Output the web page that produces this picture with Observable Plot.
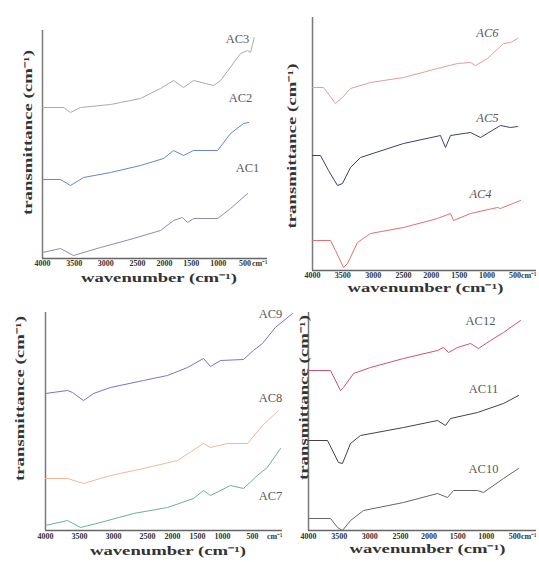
<!DOCTYPE html>
<html><head><meta charset="utf-8">
<script src="https://cdn.jsdelivr.net/npm/d3@7"></script>
<script src="https://cdn.jsdelivr.net/npm/@observablehq/plot@0.6"></script>
<style>
body{margin:0;background:#fff;}
#chart{position:relative;width:539px;height:562px;overflow:hidden;background:#fff;}
#chart svg{position:absolute;}
</style></head><body><div id="chart"></div>
<script>
// ---- tick labels / titles ----
const wavenumberTicks = [4000, 3500, 3000, 2500, 2000, 1500, 1000, 500];
const unitLabel = "cm⁻¹";
const xTitle = "wavenumber (cm⁻¹)";
const yTitle = "transmittance (cm⁻¹)";

// ---- series: [wavenumber (cm-1), transmittance (a.u., offset)] ----
const AC3 = [[4000,151],[3668,151],[3558,146],[3400,151],[2926,154],[2768,156],[2444,160],[2072,170],[1830,178],[1644,171],[1458,178],[1086,173],[956,178],[584,205],[454,208],[400,206],[330,221]];
const AC2 = [[4000,79],[3716,79],[3558,73],[3353,81],[2926,86],[2444,93],[2016,100],[1830,108],[1644,103],[1458,108],[1012,108],[770,125],[528,135],[435,136]];
const AC1 = [[4000,6],[3716,10],[3510,3],[3084,11],[2563,20],[2072,28],[1830,38],[1663,41],[1570,36],[1458,40],[1012,40],[770,50],[454,65]];

const AC6 = [[4000,183],[3819,183],[3621,167],[3506,173],[3374,182],[3044,188],[2500,193],[1890,202],[1531,207],[1298,208],[1208,205],[993,212],[706,227],[580,228],[450,232]];
const AC5 = [[4000,115],[3868,115],[3736,100],[3588,85],[3506,87],[3374,103],[3209,113],[2500,127],[1836,135],[1746,123],[1656,135],[1298,138],[1118,133],[759,145],[580,143],[454,144]];
const AC4 = [[4000,30],[3703,30],[3621,20],[3489,3],[3423,7],[3259,28],[3044,37],[2500,43],[1890,52],[1656,57],[1602,50],[1298,57],[813,63],[759,62],[400,70]];

const AC9 = [[4000,137],[3676,140],[3603,138],[3441,130],[3294,137],[3044,143],[2559,150],[2100,155],[1700,163],[1380,172],[1240,164],[1040,170],[650,171],[498,180],[475,187],[443,203],[400,217]];
const AC8 = [[4000,52],[3676,52],[3441,47],[3044,55],[2559,62],[1900,70],[1380,87],[1240,83],[917,87],[583,87],[475,105],[435,120]];
const AC7 = [[4000,5],[3676,10],[3485,3],[3191,8],[2706,17],[2100,23],[1580,32],[1380,40],[1240,35],[867,45],[650,42],[488,55],[463,63],[430,82]];

const AC12 = [[4000,160],[3641,160],[3478,140],[3429,143],[3266,157],[2989,163],[2448,172],[1853,180],[1748,183],[1660,178],[1503,183],[1275,187],[1135,182],[925,190],[698,198],[400,210]];
const AC11 = [[4000,90],[3690,90],[3511,68],[3446,67],[3315,87],[3152,95],[2448,103],[1853,110],[1713,105],[1625,112],[1153,118],[698,127],[435,135]];
const AC10 = [[4000,12],[3641,12],[3527,3],[3446,0],[3315,10],[3103,20],[2448,28],[1853,37],[1678,33],[1573,40],[1153,40],[1048,38],[698,52],[435,62]];

// ---- series labels: [name, wavenumber, transmittance] ----
const labelsP1 = [["AC3",642,220],["AC2",586,161],["AC1",456,91]];
const labelsP2 = [["AC6",993,238],["AC5",993,153],["AC4",1118,77]];
const labelsP3 = [["AC9",455,217],["AC8",455,133],["AC7",455,35]];
const labelsP4 = [["AC12",1100,210],["AC11",1048,142],["AC10",1048,62]];

// ---- panel options ----
const panels = [
  {left:0, top:0, width:270, height:290, mL:42, mT:30, mB:32, mR:3,
   domain:[4000,2500,400], range:[42,137,250], ymax:228, pad:2,
   series:[[AC3,"#a3afa5"],[AC2,"#6587c9"],[AC1,"#9287b3"]], labels:labelsP1, italic:false,
   xt:[4,23], yt:[-14,-12]},
  {left:270, top:0, width:269, height:300, mL:42, mT:17, mB:30, mR:3,
   domain:[4000,2500,400], range:[42,133,250], ymax:253, pad:2,
   series:[[AC6,"#e59c9c"],[AC5,"#3b4170"],[AC4,"#e47070"]], labels:labelsP2, italic:true,
   xt:[1,21], yt:[-20,2]},
  {left:0, top:290, width:300, height:272, mL:45, mT:22, mB:32, mR:18,
   domain:[4000,2500,1000,500,400], range:[45,147,222,252,292], ymax:218, pad:3,
   series:[[AC9,"#7575cc"],[AC8,"#f2b898"],[AC7,"#68b29a"]], labels:labelsP3, italic:false,
   xt:[4,24], yt:[-25,-23]},
  {left:270, top:290, width:269, height:272, mL:38, mT:22, mB:32, mR:3,
   domain:[4000,2500,400], range:[38,130,250], ymax:218, pad:3,
   series:[[AC12,"#d4506f"],[AC11,"#444"],[AC10,"#666"]], labels:labelsP4, italic:false,
   xt:[5,22], yt:[-4,-24]}
];

const chart = document.getElementById("chart");
for (const p of panels) {
  const svg = Plot.plot({
    width: p.width, height: p.height,
    marginLeft: p.mL, marginTop: p.mT, marginBottom: p.mB, marginRight: p.mR,
    style: {fontFamily: "Liberation Serif", fontSize: "8px", fontWeight: "bold", background: "none", overflow: "visible", color: "#333"},
    x: {type: "linear", domain: p.domain, range: p.range, ticks: wavenumberTicks,
        tickFormat: d => String(d), tickSize: 0, tickPadding: p.pad, label: null},
    y: {domain: [0, p.ymax], axis: null},
    marks: [
      Plot.ruleX([4000], {stroke: "#7a7a7a", strokeWidth: 1.5}),
      Plot.ruleY([0], {stroke: "#666", strokeWidth: 1.5}),
      ...p.series.map(([data, color]) => Plot.line(data, {x: d => d[0], y: d => d[1], stroke: color, strokeWidth: 1})),
      Plot.text(p.labels, {x: d => d[1], y: d => d[2], text: d => d[0], fontSize: 12.5, fontWeight: "normal",
        fontStyle: p.italic ? "italic" : "normal", fill: "#5a5a5a"}),
      Plot.text([unitLabel], {text: d => d, frameAnchor: "bottom-right", textAnchor: "end", lineAnchor: "top",
        dy: p.pad, fontSize: 8, fontWeight: "bold", fill: "#333"}),
      Plot.text([xTitle], {text: d => d, frameAnchor: "bottom", textAnchor: "middle", dx: p.xt[0], dy: p.xt[1], fontSize: 12, fontWeight: "bold", fill: "#333"}),
      Plot.text([yTitle], {text: d => d, frameAnchor: "left", textAnchor: "middle", rotate: -90, dx: p.yt[0], dy: p.yt[1], fontSize: 12, fontWeight: "bold", fill: "#333"})
    ]
  });
  svg.style.left = p.left + "px";
  svg.style.top = p.top + "px";
  chart.appendChild(svg);
  // stretch the titles to the length they take in the figure
  svg.querySelectorAll("text").forEach(t => {
    if (t.textContent === xTitle) { t.setAttribute("textLength", 156); t.setAttribute("lengthAdjust", "spacingAndGlyphs"); }
    if (t.textContent === yTitle) { t.setAttribute("textLength", 165); t.setAttribute("lengthAdjust", "spacingAndGlyphs"); }
  });
}
</script></body></html>
